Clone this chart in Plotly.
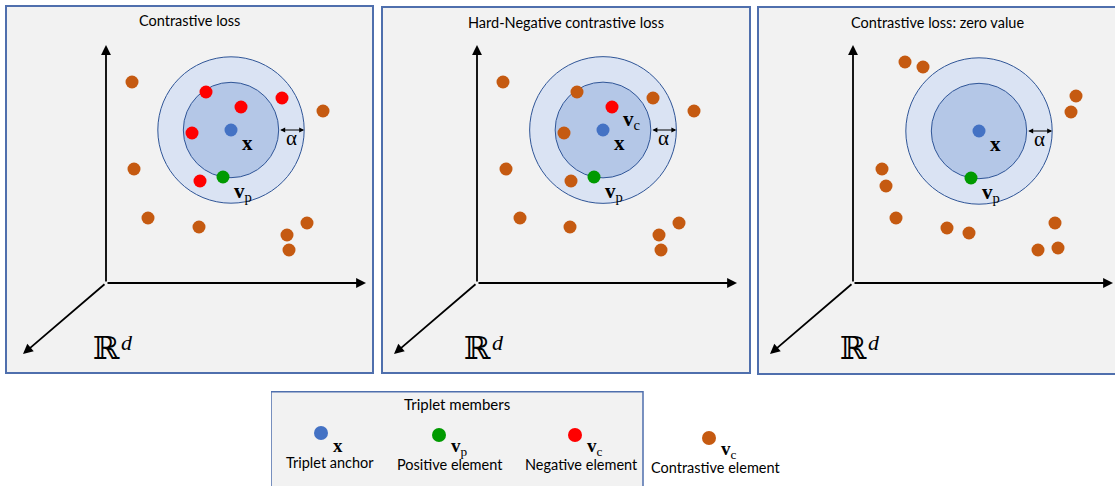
import math
import plotly.graph_objects as go

W, H = 1115, 486

# ---------------- data (panel-local units: origin at the drawn axes corner, y up) -------------
TITLES = ["Contrastive loss", "Hard-Negative contrastive loss", "Contrastive loss: zero value"]

# panel 1: Contrastive loss
P1_ANCHOR_X = [125]
P1_ANCHOR_Y = [153]
P1_POS_X = [117]
P1_POS_Y = [106]
P1_NEG_X = [100, 135, 176, 86, 94]
P1_NEG_Y = [191, 176, 185, 150, 102]
P1_CON_X = [26, 217, 28, 42, 93, 201, 181, 183]
P1_CON_Y = [201, 172, 114, 65, 56, 60, 48, 33]

# panel 2: Hard-negative contrastive loss
P2_ANCHOR_X = [126]
P2_ANCHOR_Y = [153]
P2_POS_X = [117]
P2_POS_Y = [106]
P2_NEG_X = [135]
P2_NEG_Y = [176]
P2_CON_X = [26, 100, 176, 217, 87, 29, 94, 43, 93, 202, 182, 184]
P2_CON_Y = [201, 191, 185, 172, 150, 114, 102, 65, 56, 60, 48, 33]

# panel 3: zero-valued contrastive loss
P3_ANCHOR_X = [126]
P3_ANCHOR_Y = [152]
P3_POS_X = [118]
P3_POS_Y = [105]
P3_NEG_X = []
P3_NEG_Y = []
P3_CON_X = [52, 70, 223, 218, 29, 33, 43, 94, 116, 202, 205, 185]
P3_CON_Y = [221, 216, 187, 171, 114, 97, 65, 55, 50, 60, 35, 33]

ALPHA_MARGIN = 25.5  # width of the margin ring

LEGEND_NAMES = ["Triplet anchor", "Positive element", "Negative element", "Contrastive element"]
LEGEND_SYMBOLS = ["<b>x</b>", "<b>v</b><sub>p</sub>", "<b>v</b><sub>c</sub>", "<b>v</b><sub>c</sub>"]

# ---------------- styles ----------------
C_ANCHOR = "#4472c4"
C_POS = "#009a00"
C_NEG = "#ff0000"
C_CON = "#c55a11"
C_OUTER = "#dae3f3"
C_INNER = "#b4c7e7"
C_RING = "#2f5597"
C_FRAME = "#4f6fad"
BG = "#f2f2f2"
SANS = "Lato"
SERIF = "Liberation Serif"
DOT = 13

# panel frames in pixels: (left, right, top, bottom, origin_x, origin_y)
FRAMES = [
    (7, 372, 7, 372, 106, 283),
    (383, 749, 8, 372, 477, 283),
    (759, 1115, 8, 373, 853, 283),
]
AXIS_LEN_UP = 238
AXIS_LEN_RIGHT = 260
AXIS_DIAG = (-83, -71)

panels = [
    dict(ax=P1_ANCHOR_X, ay=P1_ANCHOR_Y, px=P1_POS_X, py=P1_POS_Y, nx=P1_NEG_X, ny=P1_NEG_Y,
         cx=P1_CON_X, cy=P1_CON_Y, neg_label=False),
    dict(ax=P2_ANCHOR_X, ay=P2_ANCHOR_Y, px=P2_POS_X, py=P2_POS_Y, nx=P2_NEG_X, ny=P2_NEG_Y,
         cx=P2_CON_X, cy=P2_CON_Y, neg_label=True),
    dict(ax=P3_ANCHOR_X, ay=P3_ANCHOR_Y, px=P3_POS_X, py=P3_POS_Y, nx=P3_NEG_X, ny=P3_NEG_Y,
         cx=P3_CON_X, cy=P3_CON_Y, neg_label=False),
]

fig = go.Figure()
shapes = []
annotations = []
layout_axes = {}

for i, (pan, fr) in enumerate(zip(panels, FRAMES)):
    n = i + 1
    xr = f"x{n}" if n > 1 else "x"
    yr = f"y{n}" if n > 1 else "y"
    xa = f"xaxis{n}" if n > 1 else "xaxis"
    ya = f"yaxis{n}" if n > 1 else "yaxis"
    left, right, top, bottom, ox, oy = fr
    layout_axes[xa] = dict(domain=[left / W, right / W], range=[left - ox, right - ox],
                           anchor=yr, showgrid=False, zeroline=False, showticklabels=False,
                           ticks="", showline=True, mirror=True, linecolor=C_FRAME, linewidth=1.5,
                           fixedrange=True)
    layout_axes[ya] = dict(domain=[1 - bottom / H, 1 - top / H], range=[oy - bottom, oy - top],
                           anchor=xr, showgrid=False, zeroline=False, showticklabels=False,
                           ticks="", showline=True, mirror=(n != 3), linecolor=C_FRAME, linewidth=1.5,
                           fixedrange=True)

    # panel background
    shapes.append(dict(type="rect", xref=f"{xr} domain", yref=f"{yr} domain", x0=0, x1=1,
                       y0=0, y1=1, fillcolor=BG, line=dict(width=0), layer="below"))

    acx, acy = pan["ax"][0], pan["ay"][0]
    r_in = math.hypot(pan["px"][0] - acx, pan["py"][0] - acy)
    r_out = r_in + ALPHA_MARGIN
    shapes.append(dict(type="circle", xref=xr, yref=yr, x0=acx - r_out, x1=acx + r_out,
                       y0=acy - r_out, y1=acy + r_out, fillcolor=C_OUTER,
                       line=dict(color=C_RING, width=1), layer="below"))
    shapes.append(dict(type="circle", xref=xr, yref=yr, x0=acx - r_in, x1=acx + r_in,
                       y0=acy - r_in, y1=acy + r_in, fillcolor=C_INNER,
                       line=dict(color=C_RING, width=1), layer="below"))

    # axes arrows
    for (tx, ty) in [(0, AXIS_LEN_UP), (AXIS_LEN_RIGHT, 0), AXIS_DIAG]:
        annotations.append(dict(x=tx, y=ty, ax=0, ay=0, xref=xr, yref=yr, axref=xr, ayref=yr,
                                text="", showarrow=True, arrowhead=2, arrowsize=1.1,
                                arrowwidth=1.8, arrowcolor="black", standoff=0, startstandoff=0))
    # alpha double arrow
    annotations.append(dict(x=acx + r_out, y=acy, ax=acx + r_in, ay=acy, xref=xr, yref=yr,
                            axref=xr, ayref=yr, text="", showarrow=True, arrowhead=2,
                            arrowside="end+start", arrowsize=1, arrowwidth=1, arrowcolor="black",
                            standoff=0, startstandoff=0))
    annotations.append(dict(x=acx + r_in + ALPHA_MARGIN / 2, y=acy - 8, xref=xr, yref=yr,
                            text="α", showarrow=False,
                            font=dict(family=SERIF, size=21, color="black")))

    # title
    annotations.append(dict(x=0.5, y=1 - 14 / (bottom - top), xref=f"{xr} domain",
                            yref=f"{yr} domain", text=TITLES[i], showarrow=False,
                            yanchor="middle", xanchor="center",
                            font=dict(family=SANS, size=14.5, color="black")))
    # R^d
    annotations.append(dict(x=0, y=-65, xref=xr, yref=yr, text="ℝ", showarrow=False,
                            font=dict(family="DejaVu Serif", size=32, color="black")))
    annotations.append(dict(x=21, y=-59, xref=xr, yref=yr, text="<i>d</i>", showarrow=False,
                            font=dict(family=SERIF, size=22, color="black")))

    # labels
    annotations.append(dict(x=acx + 9, y=acy - 13, xref=xr, yref=yr, text="<b>x</b>",
                            xanchor="left", showarrow=False,
                            font=dict(family=SERIF, size=21, color="black")))
    annotations.append(dict(x=pan["px"][0] + 9, y=pan["py"][0] - 15, xref=xr, yref=yr,
                            text="<b>v</b><sub>p</sub>", xanchor="left", showarrow=False,
                            font=dict(family=SERIF, size=21, color="black")))
    if pan["neg_label"]:
        annotations.append(dict(x=pan["nx"][0] + 9, y=pan["ny"][0] - 13, xref=xr, yref=yr,
                                text="<b>v</b><sub>c</sub>", xanchor="left", showarrow=False,
                                font=dict(family=SERIF, size=21, color="black")))

    # points
    for xs, ys, col, nm in [(pan["cx"], pan["cy"], C_CON, "contrastive"),
                            (pan["nx"], pan["ny"], C_NEG, "negative"),
                            (pan["px"], pan["py"], C_POS, "positive"),
                            (pan["ax"], pan["ay"], C_ANCHOR, "anchor")]:
        if len(xs) == 0:
            continue
        fig.add_trace(go.Scatter(x=xs, y=ys, xaxis=xr, yaxis=yr, mode="markers", name=nm,
                                 marker=dict(size=DOT, color=col, line=dict(width=0)),
                                 hoverinfo="skip", showlegend=False))

# ---------------- legend (subplot 4; box drawn as a shape) ----------------
LB_LEFT, LB_RIGHT, LB_TOP, LB_EXT = 271, 643, 391, 800
layout_axes["xaxis4"] = dict(domain=[LB_LEFT / W, LB_EXT / W], range=[0, LB_EXT - LB_LEFT],
                             anchor="y4", showgrid=False, zeroline=False, showline=False,
                             showticklabels=False, ticks="", fixedrange=True)
layout_axes["yaxis4"] = dict(domain=[0, 1 - LB_TOP / H], range=[0, H - LB_TOP], anchor="x4",
                             showgrid=False, zeroline=False, showline=False,
                             showticklabels=False, ticks="", fixedrange=True)
shapes.append(dict(type="rect", xref="x4", yref="y4", x0=0, x1=LB_RIGHT - LB_LEFT,
                   y0=-6, y1=H - LB_TOP - 0.75, fillcolor=BG,
                   line=dict(color=C_FRAME, width=1.5), layer="below"))

LEG_X = [50, 168, 304, 438]
LEG_Y = [53, 51, 51, 48]
LEG_COLORS = [C_ANCHOR, C_POS, C_NEG, C_CON]
fig.add_trace(go.Scatter(x=LEG_X, y=LEG_Y, xaxis="x4", yaxis="y4", mode="markers",
                         marker=dict(size=14, color=LEG_COLORS, line=dict(width=0)),
                         hoverinfo="skip", showlegend=False))
annotations.append(dict(x=(LB_RIGHT - LB_LEFT) / 2, y=82, xref="x4", yref="y4",
                        text="Triplet members", showarrow=False,
                        font=dict(family=SANS, size=15, color="black")))
LEG_TEXT_X = [59, 179, 310, 444]
for lx, ly, lt, ls, ltx in zip(LEG_X, LEG_Y, LEGEND_NAMES, LEGEND_SYMBOLS, LEG_TEXT_X):
    annotations.append(dict(x=lx + 10, y=ly - 12, xref="x4", yref="y4", text=ls, xanchor="left",
                            showarrow=False, font=dict(family=SERIF, size=19, color="black")))
    annotations.append(dict(x=ltx, y=ly - 29, xref="x4", yref="y4", text=lt, showarrow=False,
                            font=dict(family=SANS, size=14.5, color="black")))

fig.update_layout(width=W, height=H, autosize=False, margin=dict(l=0, r=0, t=0, b=0, pad=0),
                  paper_bgcolor="white", plot_bgcolor="white", shapes=shapes,
                  annotations=annotations, showlegend=False, **layout_axes)

fig.write_html("out.html", config={"displayModeBar": False},
               post_script="document.body.style.margin='0';document.body.style.overflow='hidden';")
